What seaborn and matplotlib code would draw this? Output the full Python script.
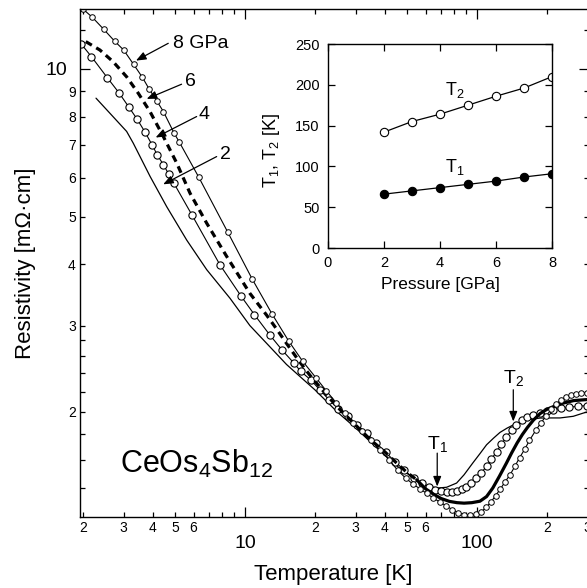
import pandas as pd
import seaborn as sns
import matplotlib.pyplot as plt

# resistivity curves: temperature [K], rho [mOhm cm]
t_2gpa = [2.28, 2.62, 3.09, 3.30, 3.90, 4.60, 5.61, 6.84, 8.62, 10.5, 12.4, 15.1, 17.3, 20, 25, 30, 37, 45,
          55, 62, 67.6, 74, 81.7, 88, 95.9, 103, 110, 118, 125.6, 135, 144, 155, 165, 187, 210, 228, 260, 297]
rho_2gpa = [8.72, 8.12, 7.46, 7.06, 6.04, 5.24, 4.48, 3.90, 3.41, 3.00, 2.76, 2.50, 2.36, 2.22, 2.00, 1.855, 1.69, 1.555,
            1.45, 1.41, 1.40, 1.405, 1.433, 1.49, 1.574, 1.645, 1.715, 1.77, 1.817, 1.855, 1.884, 1.91, 1.928, 1.944, 1.945, 1.945, 1.96, 2.0]

t_4gpa = [1.97, 2.18, 2.55, 2.86, 3.16, 3.43, 3.70, 3.98, 4.19, 4.45, 4.69, 4.94, 5.91, 7.80, 9.64,
          10.97, 12.8, 14.5, 16.2, 17.4, 19.3, 21.0, 23.0, 25.3, 27.8, 30.5, 33.5, 36.8, 40.4, 44.3,
          48.7, 53.4, 58, 62, 66, 70, 74, 78, 82, 86, 90, 94.5, 99.5, 104.5, 110, 115.5, 121.5, 127.5,
          134, 141, 148, 156, 165, 175, 187, 200, 213, 230, 250, 272, 297]
rho_4gpa = [11.24, 10.59, 9.60, 8.95, 8.36, 7.90, 7.45, 7.00, 6.68, 6.38, 6.11, 5.85, 5.04, 3.99, 3.44,
            3.16, 2.87, 2.67, 2.52, 2.42, 2.32, 2.22, 2.12, 2.03, 1.96, 1.88, 1.81, 1.73, 1.655, 1.585,
            1.52, 1.465, 1.43, 1.405, 1.39, 1.382, 1.377, 1.375, 1.38, 1.392, 1.41, 1.435, 1.467, 1.505, 1.55, 1.605, 1.66, 1.72,
            1.78, 1.835, 1.885, 1.925, 1.955, 1.975, 1.99, 2.005, 2.02, 2.035, 2.045, 2.055, 2.06]

t_6gpa = [2.06, 2.37, 2.70, 3.09, 3.47, 3.90, 4.45, 5.08, 5.80, 6.84, 8.34, 10.5, 12.4, 13.7, 15.1,
          17.0, 19.0, 21.0, 23.0, 26.0, 30, 35, 40, 45, 50, 55, 60, 65, 70, 76, 82, 88, 95, 103, 110,
          117, 125, 134, 141, 149, 157, 165, 175, 187, 200, 213, 235, 261, 297]
rho_6gpa = [11.37, 10.93, 10.35, 9.64, 8.92, 8.18, 7.28, 6.43, 5.58, 4.85, 4.15, 3.49, 3.15, 2.95, 2.76,
            2.55, 2.38, 2.25, 2.14, 2.01, 1.88, 1.75, 1.66, 1.575, 1.505, 1.455, 1.395, 1.36, 1.333, 1.315, 1.307, 1.304, 1.307, 1.316, 1.345,
            1.40, 1.48, 1.574, 1.65, 1.73, 1.80, 1.86, 1.925, 1.985, 2.025, 2.05, 2.085, 2.11, 2.12]

t_8gpa = [2.01, 2.20, 2.46, 2.74, 3.00, 3.31, 3.61, 3.87, 4.16, 4.45, 4.95, 5.20, 6.32, 8.43, 10.75,
          13.07, 15.43, 17.7, 20.2, 22.4, 24.7, 26.9, 29.3, 31.9, 34.9, 38.2, 41.7, 45.6, 49.4, 53.1,
          56.8, 60.7, 64.6, 69.3, 73.6, 78.3, 83.0, 88.2, 93.3, 99.4, 104.3, 109.5, 114.7, 120.2, 126,
          132, 138.9, 145.7, 152.7, 160.7, 168.3, 179.2, 188.5, 199, 209, 220, 231, 243, 255, 268, 282, 297]
rho_8gpa = [13.23, 12.74, 12.05, 11.40, 10.93, 10.22, 9.62, 9.09, 8.62, 8.19, 7.40, 7.11, 6.02, 4.65, 3.73,
            3.17, 2.79, 2.54, 2.35, 2.21, 2.09, 1.99, 1.90, 1.83, 1.75, 1.675, 1.60, 1.52, 1.465, 1.425,
            1.395, 1.365, 1.337, 1.31, 1.288, 1.265, 1.247, 1.236, 1.231, 1.237, 1.252, 1.278, 1.31, 1.35, 1.393,
            1.44, 1.49, 1.55, 1.615, 1.68, 1.75, 1.835, 1.90, 1.965, 2.025, 2.08, 2.12, 2.148, 2.165, 2.175, 2.183, 2.19]

# inset: transition temperatures vs pressure
pressure = [2, 3, 4, 5, 6, 7, 8]
t1_k = [66, 70, 74, 78, 82, 87, 91]
t2_k = [142, 155, 164, 175, 186, 196, 210]

sns.set_style("ticks")
plt.rcParams['font.family'] = ['Liberation Sans', 'DejaVu Sans']
plt.rcParams['mathtext.fontset'] = 'custom'
plt.rcParams['mathtext.rm'] = 'Liberation Sans'
plt.rcParams['mathtext.it'] = 'Liberation Sans:italic'
plt.rcParams['mathtext.default'] = 'regular'
plt.rcParams['axes.linewidth'] = 1.0
plt.rcParams['axes.edgecolor'] = 'k'
plt.rcParams['text.color'] = 'k'
plt.rcParams['axes.labelcolor'] = 'k'
plt.rcParams['xtick.color'] = 'k'
plt.rcParams['ytick.color'] = 'k'

fig = plt.figure(figsize=(5.87, 5.88), dpi=100)
ax = fig.add_axes([80 / 587, 71 / 588, 509 / 587, 508 / 588])
ax.set_xscale('log')
ax.set_yscale('log')

common = dict(ax=ax, color='k', estimator=None, sort=False, legend=False)
open_small = dict(marker='o', markersize=4, markerfacecolor='white', markeredgecolor='k', markeredgewidth=0.7)
open_big = dict(marker='o', markersize=5.2, markerfacecolor='white', markeredgecolor='k', markeredgewidth=0.8)

sns.lineplot(x=t_2gpa, y=rho_2gpa, lw=0.9, **common)
sns.lineplot(x=t_4gpa, y=rho_4gpa, lw=0.8, **open_big, **common)

df6 = pd.DataFrame({'T': t_6gpa, 'rho': rho_6gpa})
low6 = df6[df6['T'] <= 55]
high6 = df6[df6['T'] >= 55]
sns.lineplot(data=low6, x='T', y='rho', lw=2.3, linestyle=(0, (2.2, 1.6)), **common)
sns.lineplot(data=high6, x='T', y='rho', lw=2.3, **common)

sns.lineplot(x=t_8gpa, y=rho_8gpa, lw=0.8, **open_small, **common)

ax.set_xlim(1.945, 304)
ax.set_ylim(1.222, 13.25)

ax.set_xticks([10, 100], labels=['10', '100'])
x_minor = [2, 3, 4, 5, 6, 7, 8, 9, 20, 30, 40, 50, 60, 70, 80, 90, 200, 300]
x_minor_lbl = ['2', '3', '4', '5', '6', '', '', '', '2', '3', '4', '5', '6', '', '', '', '2', '3']
ax.set_xticks(x_minor, labels=x_minor_lbl, minor=True)
ax.set_yticks([10], labels=['10'])
y_minor = [1.4, 1.6, 1.8, 2, 2.2, 2.4, 2.6, 2.8, 3, 4, 5, 6, 7, 8, 9, 12]
y_minor_lbl = ['', '', '', '2', '', '', '', '', '3', '4', '5', '6', '7', '8', '9', '']
ax.set_yticks(y_minor, labels=y_minor_lbl, minor=True)

ax.tick_params(which='both', direction='in', top=True, right=True, width=0.9, color='k')
ax.tick_params(which='major', length=7, labelsize=14)
ax.tick_params(which='minor', length=3.8, labelsize=10)
ax.tick_params(axis='x', which='major', pad=13)
ax.tick_params(axis='x', which='minor', pad=3)
ax.tick_params(axis='y', which='major', pad=9)
ax.tick_params(axis='y', which='minor', pad=3)

ax.set_xlabel('Temperature [K]', fontsize=16)
ax.xaxis.set_label_coords(0.498, -0.092)
ax.set_ylabel('Resistivity [m\u03a9\u00b7cm]', fontsize=16)
ax.yaxis.set_label_coords(-0.086, 0.5)

ax.text(2.89, 1.502, 'CeOs$_4$Sb$_{12}$', fontsize=22, va='baseline', ha='left')

arrow = dict(arrowstyle='-|>,head_length=0.5,head_width=0.2', color='k', lw=0.9,
             shrinkA=0, shrinkB=0, mutation_scale=12)
ax.annotate('', xy=(3.39, 10.4), xytext=(4.67, 11.28), arrowprops=arrow)
ax.text(4.89, 11.28, '8 GPa', fontsize=14, va='center', ha='left')
ax.annotate('', xy=(3.77, 8.69), xytext=(5.33, 9.31), arrowprops=arrow)
ax.text(5.51, 9.45, '6', fontsize=14, va='center', ha='left')
ax.annotate('', xy=(4.12, 7.25), xytext=(6.19, 8.0), arrowprops=arrow)
ax.text(6.29, 8.06, '4', fontsize=14, va='center', ha='left')
ax.annotate('', xy=(4.44, 5.82), xytext=(7.55, 6.63), arrowprops=arrow)
ax.text(7.80, 6.68, '2', fontsize=14, va='center', ha='left')

ax.annotate('', xy=(67.4, 1.41), xytext=(67.4, 1.649), arrowprops=arrow)
ax.text(67.4, 1.683, 'T$_1$', fontsize=14, va='baseline', ha='center')
ax.annotate('', xy=(143.4, 1.913), xytext=(143.4, 2.22), arrowprops=arrow)
ax.text(143.4, 2.29, 'T$_2$', fontsize=14, va='baseline', ha='center')

# inset
ax2 = fig.add_axes([328 / 587, 340 / 588, 224 / 587, 204 / 588])
inset_kw = dict(ax=ax2, color='k', estimator=None, sort=False, legend=False, lw=0.9)
sns.lineplot(x=pressure, y=t2_k, marker='o', markersize=6, markerfacecolor='white',
             markeredgecolor='k', markeredgewidth=0.8, **inset_kw)
sns.lineplot(x=pressure, y=t1_k, marker='o', markersize=6, markerfacecolor='k',
             markeredgecolor='k', markeredgewidth=0.8, **inset_kw)
ax2.set_xlim(0, 8)
ax2.set_ylim(0, 250)
ax2.set_xticks([0, 2, 4, 6, 8])
ax2.set_yticks([0, 50, 100, 150, 200, 250])
ax2.tick_params(direction='in', top=True, right=True, length=5, width=0.9, labelsize=10.5, color='k')
ax2.tick_params(axis='x', pad=6)
ax2.tick_params(axis='y', pad=6)
ax2.set_xlabel('Pressure [GPa]', fontsize=12.5)
ax2.xaxis.set_label_coords(0.504, -0.14)
ax2.set_ylabel('T$_1$, T$_2$ [K]', fontsize=13)
ax2.yaxis.set_label_coords(-0.205, 0.48)
ax2.text(4.18, 187.5, 'T$_2$', fontsize=13, va='baseline', ha='left')
ax2.text(4.18, 93.5, 'T$_1$', fontsize=13, va='baseline', ha='left')

fig.savefig('out.png', dpi=100)
